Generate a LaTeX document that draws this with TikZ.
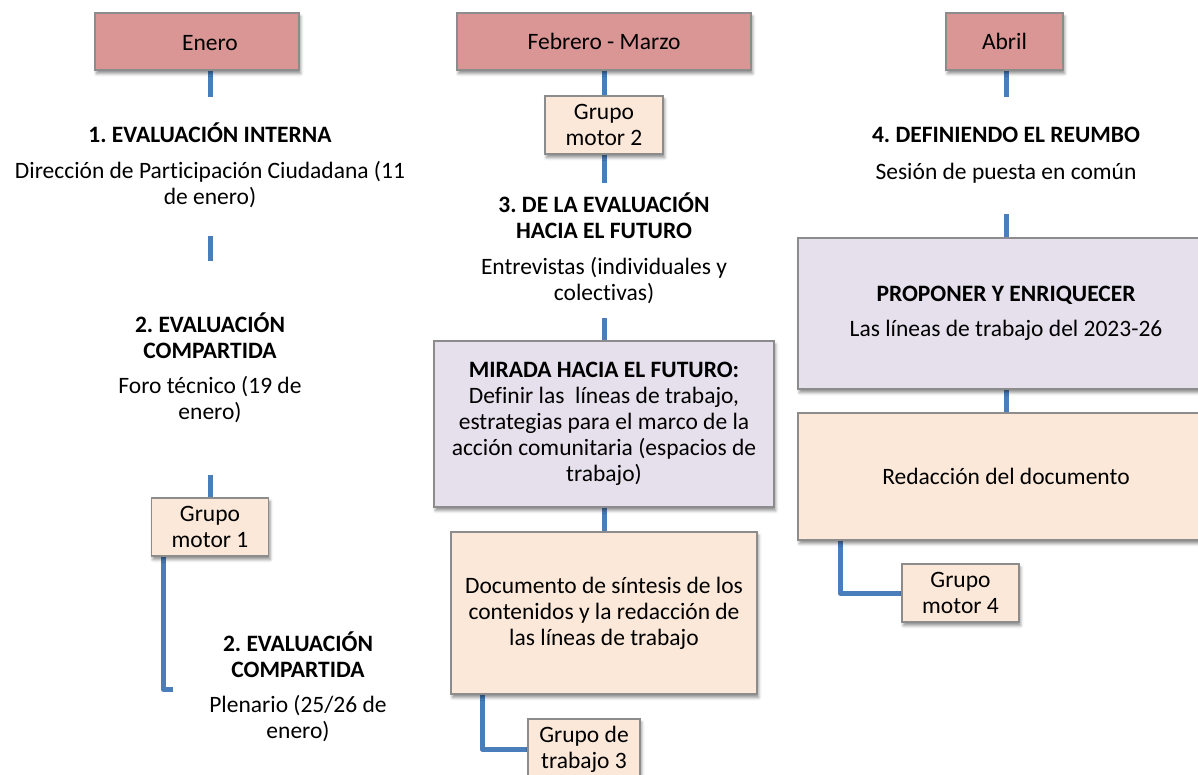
\documentclass[tikz,border=0pt]{standalone}
\usepackage{fontspec}
\setmainfont{Carlito}[Ligatures={NoCommon}]
\frenchspacing
\usetikzlibrary{shadows.blur}
\pgfdeclarelayer{bg}
\pgfsetlayers{bg,main}
\definecolor{hdrfill}{HTML}{D99694}
\definecolor{peach}{HTML}{FBE8D9}
\definecolor{lav}{HTML}{E5E0EC}
\definecolor{edge}{HTML}{8C8C8C}
\definecolor{conncol}{HTML}{4A7EBB}
\tikzset{
  every node/.style={font=\fontsize{23.5}{26}\selectfont, align=center, inner sep=0pt, outer sep=0pt},
  boxbase/.style={draw=edge, line width=1.2pt,
    blur shadow={shadow xshift=1.5pt, shadow yshift=-3.5pt, shadow blur radius=3pt, shadow opacity=45}},
  hdr/.style={boxbase, fill=hdrfill},
  pbox/.style={boxbase, fill=peach},
  lbox/.style={boxbase, fill=lav},
  conn/.style={draw=conncol, line width=5pt, line join=round},
  ttl/.style={font=\fontsize{23.5}{26}\selectfont\bfseries},
  txt/.style={font=\fontsize{23.5}{26}\selectfont}
}
\begin{document}
\begin{tikzpicture}[x=1pt,y=-1pt]
\useasboundingbox (0,0) rectangle (1198,774);
\clip (0,0) rectangle (1198,774);
% column axes
\coordinate (c1) at (210,0);
\coordinate (c2) at (604,0);
\coordinate (c3) at (1006,0);
% headers
\node[hdr, minimum width=204, minimum height=57] (enero) at (197,41.5) {};
\node[txt] (enerot) at (210,43) {Enero};
\node[hdr, minimum width=294, minimum height=57] (feb) at (604,41.5) {Febrero - Marzo};
\node[hdr, minimum width=117, minimum height=57] (abril) at (1004.5,41.5) {Abril};
% left column
\node[ttl] (t1) at (210,133) {1. EVALUACIÓN INTERNA};
\node[txt] (d1) at (210,185) {Dirección de Participación Ciudadana (11\\de enero)};
\node[ttl] (t2) at (210,336) {2. EVALUACIÓN\\COMPARTIDA};
\node[txt] (d2) at (210,399.5) {Foro técnico (19 de\\enero)};
\node[pbox, minimum width=117, minimum height=58] (gm1) at (210,527) {Grupo\\motor 1};
\node[ttl] (t3) at (298,654.5) {2. EVALUACIÓN\\COMPARTIDA};
\node[txt] (d3) at (298,718.5) {Plenario (25/26 de\\enero)};
% middle column
\node[pbox, minimum width=118, minimum height=58] (gm2) at (604,125) {Grupo\\motor 2};
\node[ttl] (t4) at (604,216) {3. DE LA EVALUACIÓN\\HACIA EL FUTURO};
\node[txt] (d4) at (604,281) {Entrevistas (individuales y\\colectivas)};
\node[lbox, minimum width=340, minimum height=166] (mir) at (604,424) {\textbf{MIRADA HACIA EL FUTURO:}\\Definir las\ \ líneas de trabajo,\\estrategias para el marco de la\\acción comunitaria (espacios de\\trabajo)};
\node[pbox, minimum width=306, minimum height=162] (doc) at (604,613) {Documento de síntesis de los\\contenidos y la redacción de\\las líneas de trabajo};
\node[pbox, minimum width=112, minimum height=60] (gt3) at (584,749) {Grupo de\\trabajo 3};
% right column
\node[ttl] (t5) at (1006,135) {4. DEFINIENDO EL REUMBO};
\node[txt] (d5) at (1006,173) {Sesión de puesta en común};
\node[lbox, minimum width=420, minimum height=151] (prop) at (1008,313.5) {};
\node[txt] (propt) at (1006,313.5) {\textbf{PROPONER Y ENRIQUECER}\\[9pt]Las líneas de trabajo del 2023-26};
\node[pbox, minimum width=420, minimum height=127] (red) at (1008,476.5) {};
\node[txt] (redt) at (1006,476.5) {Redacción del documento};
\node[pbox, minimum width=117, minimum height=58] (gm4) at (960.5,593) {Grupo\\motor 4};
% free ends
\coordinate (a1) at (210,97);
\coordinate (a2a) at (210,236);
\coordinate (a2b) at (210,261);
\coordinate (a3) at (210,475);
\coordinate (e1) at (173,689);
\coordinate (b1) at (604,183);
\coordinate (b2) at (604,318);
\coordinate (r1) at (1006,97);
\coordinate (r2) at (1006,214);
\begin{pgfonlayer}{bg}
\draw[conn] (enero.south -| c1) -- (a1);
\draw[conn] (a2a) -- (a2b);
\draw[conn] (a3) -- (gm1.north);
\draw[conn] ([xshift=-47pt]gm1.south) |- (e1);
\draw[conn] (feb.south) -- (gm2.north);
\draw[conn] (gm2.south) -- (b1);
\draw[conn] (b2) -- (mir.north);
\draw[conn] (mir.south) -- (doc.north);
\draw[conn] ([xshift=31pt]doc.south west) |- (gt3.west);
\draw[conn] (abril.south -| c3) -- (r1);
\draw[conn] (r2) -- (prop.north -| c3);
\draw[conn] (prop.south -| c3) -- (red.north -| c3);
\draw[conn] ([xshift=42pt]red.south west) |- (gm4.west);
\end{pgfonlayer}
\end{tikzpicture}
\end{document}
